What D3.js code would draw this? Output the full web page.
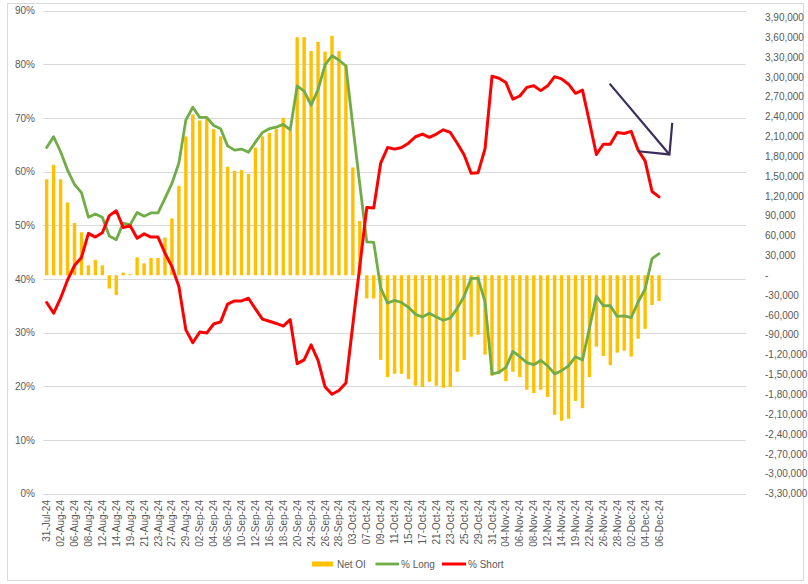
<!DOCTYPE html>
<html>
<head>
<meta charset="utf-8">
<script src="https://cdn.jsdelivr.net/npm/d3@7"></script>
<style>
  html, body { margin: 0; padding: 0; background: #fff; }
  svg text { font-family: "Liberation Sans Narrow", "Arial Narrow", "Liberation Sans", Arial, sans-serif; fill: #595959; }
</style>
</head>
<body>
<svg id="chart" width="808" height="584"></svg>
<script>
// ---------------- DATA ----------------
const dates = [
  "31-Jul-24","01-Aug-24","02-Aug-24","05-Aug-24","06-Aug-24","07-Aug-24","08-Aug-24","09-Aug-24",
  "12-Aug-24","13-Aug-24","14-Aug-24","16-Aug-24","19-Aug-24","20-Aug-24","21-Aug-24","22-Aug-24",
  "23-Aug-24","26-Aug-24","27-Aug-24","28-Aug-24","29-Aug-24","30-Aug-24","02-Sep-24","03-Sep-24",
  "04-Sep-24","05-Sep-24","06-Sep-24","09-Sep-24","10-Sep-24","11-Sep-24","12-Sep-24","13-Sep-24",
  "16-Sep-24","17-Sep-24","18-Sep-24","19-Sep-24","20-Sep-24","23-Sep-24","24-Sep-24","25-Sep-24",
  "26-Sep-24","27-Sep-24","28-Sep-24","30-Sep-24","03-Oct-24","04-Oct-24","07-Oct-24","08-Oct-24",
  "09-Oct-24","10-Oct-24","11-Oct-24","14-Oct-24","15-Oct-24","16-Oct-24","17-Oct-24","18-Oct-24",
  "21-Oct-24","22-Oct-24","23-Oct-24","24-Oct-24","25-Oct-24","28-Oct-24","29-Oct-24","30-Oct-24",
  "31-Oct-24","01-Nov-24","04-Nov-24","05-Nov-24","06-Nov-24","07-Nov-24","08-Nov-24","11-Nov-24",
  "12-Nov-24","13-Nov-24","14-Nov-24","18-Nov-24","19-Nov-24","21-Nov-24","22-Nov-24","25-Nov-24",
  "26-Nov-24","27-Nov-24","28-Nov-24","29-Nov-24","02-Dec-24","03-Dec-24","04-Dec-24","05-Dec-24",
  "06-Dec-24"
];
// empty trailing category slots on the axis
const blankCategories = ["","","","","","","","","","","",""];
const categories = dates.concat(blankCategories);

// Net OI (contracts)
const netOI = [
  145000,167000,145000,110000,79000,65000,15000,23000,15000,-20000,-30000,4000,1500,27000,18000,26000,
  26000,57000,86000,135000,210000,243000,234000,237000,221000,210000,164000,158000,159000,153000,193000,210000,
  215000,221000,238000,219000,360000,360000,339000,353000,338000,362000,339000,319000,163000,82000,-35000,-35000,
  -128000,-154000,-149000,-149000,-157000,-167000,-169000,-161000,-167000,-170000,-169000,-146000,-128000,-93000,-90000,-120000,
  -152000,-149000,-160000,-146000,-154000,-173000,-178000,-173000,-184000,-211000,-220000,-217000,-190000,-201000,-154000,-108000,
  -122000,-136000,-117000,-114000,-123000,-96000,-81000,-45000,-39000
];
// % Long
const pctLong = [
  64.5,66.5,63.7,60.3,57.6,56.1,51.5,52.1,51.5,48.0,47.3,50.4,50.1,52.4,51.7,52.3,
  52.3,55.0,57.8,61.6,69.6,72.0,70.1,70.1,68.6,68.0,64.8,64.0,64.2,63.6,65.5,67.3,
  68.0,68.3,68.8,67.8,76.0,75.0,72.4,75.3,79.9,81.6,80.8,79.7,68.5,57.6,46.9,46.8,
  38.3,35.5,36.0,35.6,34.7,33.4,32.9,33.6,32.9,32.3,32.7,34.5,36.8,40.1,40.1,35.7,
  22.3,22.6,23.5,26.5,25.5,24.4,24.0,24.8,23.8,22.3,22.9,23.8,25.5,24.9,30.8,36.8,
  35.0,35.0,33.0,33.1,32.8,35.7,38.1,43.8,44.7
];
// % Short
const pctShort = [
  35.6,33.6,36.4,39.8,42.5,44.0,48.5,47.8,48.6,51.8,52.7,49.6,49.9,47.6,48.4,47.8,
  47.8,44.8,42.3,38.6,30.5,28.1,30.1,29.9,31.6,32.0,35.3,35.9,35.9,36.4,34.4,32.5,
  32.1,31.7,31.2,32.4,24.2,24.9,27.7,24.8,19.9,18.5,19.2,20.6,31.5,42.4,53.3,53.2,
  61.6,64.5,64.2,64.5,65.3,66.5,67.0,66.4,67.0,67.8,67.3,65.3,63.1,59.7,59.8,64.3,
  77.8,77.4,76.6,73.5,74.1,75.7,76.0,75.1,76.0,77.7,77.3,76.3,74.6,75.2,69.3,63.2,
  65.1,65.1,67.3,67.1,67.5,64.0,62.0,56.3,55.3
];
const leftTicks = [0,10,20,30,40,50,60,70,80,90];
const rightTicks = d3.range(-330000, 390001, 30000);
const seriesNames = ["Net OI", "% Long", "% Short"];
// annotation arrow (category index, % value)
const arrowLine = [[80.9, 76.4], [89.5, 63.2]];
const arrowHead = [[85.0, 63.8], [89.5, 63.2], [89.9, 69.1]];

// ---------------- CHART ----------------
const svg = d3.select("#chart");
const plot = { left: 43.2, right: 746, top: 10.7, bottom: 493.5 };
const colors = { bar: "#FFC000", long: "#70AD47", short: "#FF0000", grid: "#D9D9D9", arrow: "#3B2E5A" };

svg.append("rect").attr("x", 7.5).attr("y", 3.5).attr("width", 796).attr("height", 577)
  .attr("fill", "#fff").attr("stroke", colors.grid).attr("stroke-width", 1);

const x = d3.scaleBand().domain(d3.range(categories.length)).range([plot.left, plot.right]).paddingInner(0.5).paddingOuter(0.25);
const step = x.step();
const cx = i => plot.left + step / 2 + i * step;
const yL = d3.scaleLinear().domain([0, 90]).range([plot.bottom, plot.top]);
const yR = d3.scaleLinear().domain([-330000, 400000]).range([plot.bottom, plot.top]);

// gridlines
svg.append("g").selectAll("line").data(leftTicks).join("line")
  .attr("x1", plot.left).attr("x2", plot.right)
  .attr("y1", d => Math.round(yL(d)) + 0.5).attr("y2", d => Math.round(yL(d)) + 0.5)
  .attr("stroke", colors.grid).attr("stroke-width", 1);

// left axis labels
const leftAxis = d3.axisLeft(yL).tickValues(leftTicks).tickFormat(d => d + "%").tickSize(0).tickPadding(0);
const gL = svg.append("g").attr("transform", `translate(35,0)`).call(leftAxis);
gL.select(".domain").remove();
gL.selectAll("text").attr("font-size", "10px").attr("fill", "#595959").attr("font-family", null);

// right axis labels (Indian digit grouping)
function indianFormat(v) {
  if (v === 0) return "-";
  const neg = v < 0; let s = String(Math.abs(v));
  let last3 = s.slice(-3), rest = s.slice(0, -3);
  if (rest.length) { rest = rest.replace(/\B(?=(\d{2})+(?!\d))/g, ","); s = rest + "," + last3; } else s = last3;
  return (neg ? "-" : "") + s;
}
const rightAxis = d3.axisRight(yR).tickValues(rightTicks).tickFormat(indianFormat).tickSize(0).tickPadding(0);
const gR = svg.append("g").attr("transform", `translate(765,0)`).call(rightAxis);
gR.select(".domain").remove();
gR.selectAll("text").attr("font-size", "10px").attr("fill", "#595959").attr("font-family", null);

// bars
svg.append("g").selectAll("rect").data(netOI).join("rect")
  .attr("x", (d, i) => cx(i) - 1.7)
  .attr("width", 3.4)
  .attr("y", d => Math.min(yR(d), yR(0)))
  .attr("height", d => Math.abs(yR(d) - yR(0)))
  .attr("fill", colors.bar);

// lines
const line = d3.line().x((d, i) => cx(i)).y(d => yL(d));
svg.append("path").datum(pctLong).attr("d", line).attr("fill", "none")
  .attr("stroke", colors.long).attr("stroke-width", 2.8).attr("stroke-linejoin", "round").attr("stroke-linecap", "round");
svg.append("path").datum(pctShort).attr("d", line).attr("fill", "none")
  .attr("stroke", colors.short).attr("stroke-width", 3).attr("stroke-linejoin", "round").attr("stroke-linecap", "round");

// x labels
svg.append("g").selectAll("text").data(categories.map((c, i) => ({ c, i })).filter(d => d.i % 2 === 0 && d.c))
  .join("text")
  .attr("transform", d => `translate(${cx(d.i)},500) rotate(-90)`)
  .attr("text-anchor", "end").attr("dy", "0.35em")
  .attr("font-size", "10px").text(d => d.c);

// annotation arrow
const aLine = d3.line().x(d => cx(d[0])).y(d => yL(d[1]));
svg.append("path").datum(arrowLine).attr("d", aLine).attr("fill", "none")
  .attr("stroke", colors.arrow).attr("stroke-width", 2.2);
svg.append("path").datum(arrowHead).attr("d", aLine).attr("fill", "none")
  .attr("stroke", colors.arrow).attr("stroke-width", 2.2).attr("stroke-linejoin", "miter");

// legend
const lg = svg.append("g").attr("transform", "translate(0,564)");
lg.append("rect").attr("x", 312).attr("y", -2.5).attr("width", 21).attr("height", 5).attr("fill", colors.bar);
lg.append("text").attr("x", 337).attr("dy", "0.35em").attr("font-size", "10px").text(seriesNames[0]);
lg.append("line").attr("x1", 375.5).attr("x2", 399).attr("stroke", colors.long).attr("stroke-width", 2.8);
lg.append("text").attr("x", 401).attr("dy", "0.35em").attr("font-size", "10px").text(seriesNames[1]);
lg.append("line").attr("x1", 442).attr("x2", 466).attr("stroke", colors.short).attr("stroke-width", 3);
lg.append("text").attr("x", 468).attr("dy", "0.35em").attr("font-size", "10px").text(seriesNames[2]);
</script>
</body>
</html>
